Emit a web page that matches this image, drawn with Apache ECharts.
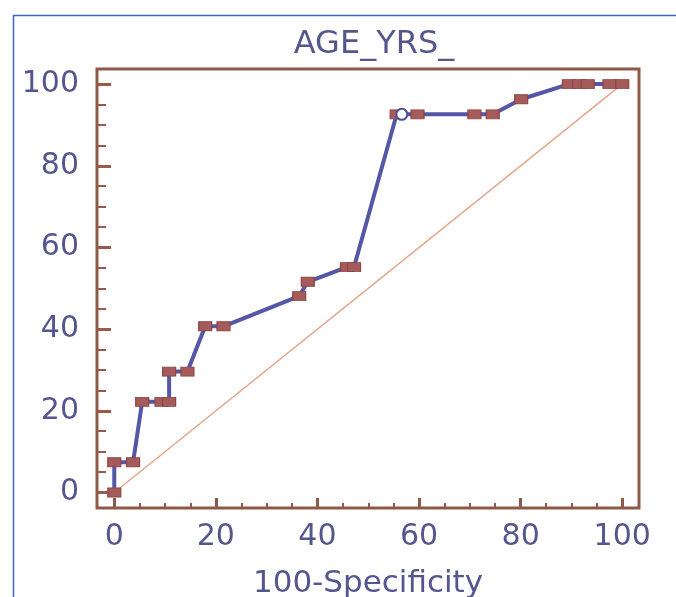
<!DOCTYPE html>
<html>
<head>
<meta charset="utf-8">
<title>AGE_YRS_</title>
<script src="https://cdn.jsdelivr.net/npm/echarts@6.0.0/dist/echarts.min.js"></script>
<style>
	html, body { margin: 0; padding: 0; background: #fff; }
	#chart { width: 676px; height: 597px; }
</style>
</head>
<body>
<div id="chart"></div>
<script>
// ROC curve points (100-Specificity, Sensitivity)
var rocX = [0, 0, 3.7, 5.5, 9.3, 10.8, 10.8, 14.4, 17.9, 21.5, 36.4, 38.1, 45.8, 47.2, 55.6, 56.6, 59.7, 70.9, 74.5, 80.1, 89.5, 91.5, 93.2, 97.5, 100];
var rocY = [0, 7.4, 7.4, 22.2, 22.2, 22.2, 29.6, 29.6, 40.7, 40.7, 48.1, 51.6, 55.2, 55.2, 92.6, 92.6, 92.6, 92.6, 92.6, 96.3, 100, 100, 100, 100, 100];
// index of the optimal criterion (open circle)
var cutIndex = 15;

// diagonal reference line
var refX = [0, 100];
var refY = [0, 100];

// tick labels
var majorTicks = [0, 20, 40, 60, 80, 100];
var minorTicks = [5, 10, 15, 25, 30, 35, 45, 50, 55, 65, 70, 75, 85, 90, 95];

var frameColor = '#8d5a48';
var textColor = '#56568f';

var rocData = rocX.map(function (x, i) {
	if (i === cutIndex) {
		return {
			value: [x, rocY[i]],
			symbol: 'circle',
			symbolSize: 11,
			itemStyle: { color: '#fff', borderColor: '#4d4d99', borderWidth: 2 }
		};
	}
	return [x, rocY[i]];
});
var refData = refX.map(function (x, i) { return [x, refY[i]]; });

var single = echarts.init(document.getElementById('chart'));

var option = {
	animation: false,
	//标题
	title: {
		text: 'AGE_YRS_',
		left: 369,
		top: 24,
		textAlign: 'center',
		textStyle: {
			color: textColor,
			fontFamily: 'DejaVu Sans',
			fontWeight: 'normal',
			fontSize: 32
		}
	},
	//外框
	graphic: [{
		type: 'rect',
		left: 11,
		top: 13,
		shape: { width: 700, height: 620 },
		style: { fill: 'none', stroke: '#3868c4', lineWidth: 1.5 },
		silent: true
	}],
	//网格
	grid: {
		left: 97,
		right: 37,
		top: 69,
		bottom: 89,
		outerBoundsMode: 'none',
		containLabel: false,
		show: true,
		borderColor: frameColor,
		borderWidth: 3,
		backgroundColor: 'transparent'
	},
	//x轴
	xAxis: [{
		type: 'value',
		position: 'bottom',
		min: -3.4,
		max: 103.3,
		name: '100-Specificity',
		nameLocation: 'middle',
		nameGap: 60,
		nameTextStyle: {
			color: textColor,
			fontFamily: 'DejaVu Sans',
			fontSize: 31
		},
		splitLine: { show: false },
		axisLine: { show: false, onZero: false },
		axisTick: {
			inside: true,
			length: 10,
			customValues: majorTicks,
			lineStyle: { color: frameColor, width: 3 }
		},
		axisLabel: {
			margin: 14,
			customValues: majorTicks,
			color: textColor,
			fontFamily: 'DejaVu Sans',
			fontSize: 30
		}
	}, {
		type: 'value',
		position: 'bottom',
		min: -3.4,
		max: 103.3,
		splitLine: { show: false },
		axisLine: { show: false, onZero: false },
		axisTick: {
			inside: true,
			length: 5,
			customValues: minorTicks,
			lineStyle: { color: frameColor, width: 2 }
		},
		axisLabel: { show: false }
	}],
	//y轴
	yAxis: [{
		type: 'value',
		position: 'left',
		min: -3.8,
		max: 103.7,
		splitLine: { show: false },
		axisLine: { show: false, onZero: false },
		axisTick: {
			inside: true,
			length: 14,
			customValues: majorTicks,
			lineStyle: { color: '#9a5a48', width: 3 }
		},
		axisLabel: {
			margin: 18,
			customValues: majorTicks,
			color: textColor,
			fontFamily: 'DejaVu Sans',
			fontSize: 30
		}
	}, {
		type: 'value',
		position: 'left',
		min: -3.8,
		max: 103.7,
		splitLine: { show: false },
		axisLine: { show: false, onZero: false },
		axisTick: {
			inside: true,
			length: 9,
			customValues: minorTicks,
			lineStyle: { color: '#9a5a48', width: 2 }
		},
		axisLabel: { show: false }
	}],
	//系列列表
	series: [
		{
			name: 'reference',
			type: 'line',
			data: refData,
			symbol: 'none',
			z: 1,
			lineStyle: { color: '#e2a688', width: 1.5 }
		},
		{
			name: 'AGE_YRS_',
			type: 'line',
			data: rocData,
			symbol: 'rect',
			symbolSize: [13, 9],
			z: 3,
			lineStyle: { color: '#5656a6', width: 4 },
			itemStyle: { color: '#a65b5b', borderColor: '#8e4545', borderWidth: 1 }
		}
	]
};

single.setOption(option);
</script>
</body>
</html>
